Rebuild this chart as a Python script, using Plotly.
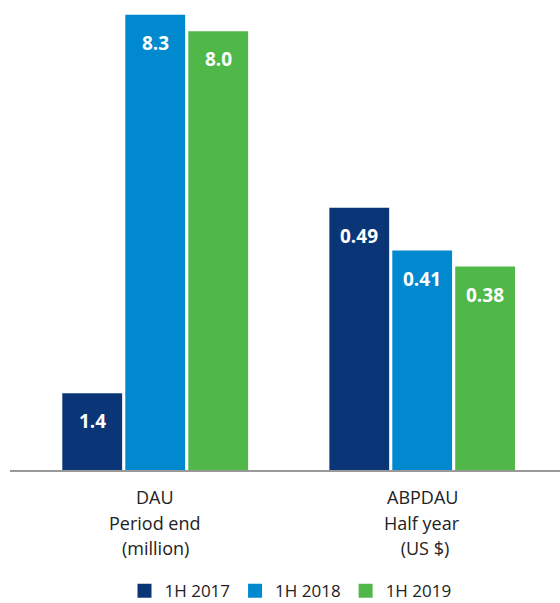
import plotly.graph_objects as go

series = ["1H 2017", "1H 2018", "1H 2019"]
colors = ["#0a3678", "#0089cf", "#50b848"]
dau_cat = ["DAU", "Period end", "(million)"]
abp_cat = ["ABPDAU", "Half year", "\u00a0(US $)"]
dau_values = [1.4, 8.3, 8.0]
abp_values = [0.49, 0.41, 0.38]
dau_labels = ["1.4", "8.3", "8.0"]
abp_labels = ["0.49", "0.41", "0.38"]

fig = go.Figure()
fig.add_trace(go.Bar(x=series, y=dau_values, marker_color=colors, marker_line_width=0,
                     xaxis="x", yaxis="y", showlegend=False, hoverinfo="y"))
fig.add_trace(go.Bar(x=series, y=abp_values, marker_color=colors, marker_line_width=0,
                     xaxis="x2", yaxis="y2", showlegend=False, hoverinfo="y"))
for i, name in enumerate(series):
    fig.add_trace(go.Scatter(x=[None], y=[None], mode="markers", name=name,
                             marker=dict(symbol="square", size=14, color=colors[i])))

anns = []
for xr, yr, vals, labs, cat in [("x", "y", dau_values, dau_labels, dau_cat),
                                 ("x2", "y2", abp_values, abp_labels, abp_cat)]:
    for s, v, l in zip(series, vals, labs):
        anns.append(dict(xref=xr, yref=yr, x=s, y=v, text="<b>" + l + "</b>", showarrow=False,
                         yshift=-28, yanchor="middle",
                         font=dict(color="white", size=19, family="Open Sans")))
    for k, line in enumerate(cat):
        anns.append(dict(xref=xr, yref="paper", x=series[1], y=0, text=line, showarrow=False,
                         yshift=-27 - 25.5 * k, yanchor="middle",
                         font=dict(size=18, color="#222222", family="Open Sans")))

fig.update_layout(
    width=560, height=603,
    margin=dict(l=10, r=0, t=0, b=133, autoexpand=False),
    plot_bgcolor="white", paper_bgcolor="white",
    bargap=0.05,
    font=dict(family="Open Sans", size=16, color="#222222"),
    annotations=anns,
    xaxis=dict(domain=[0, 0.5], range=[-1.305, 3.06], showline=True, linecolor="#999999",
               linewidth=2, ticks="", showticklabels=False, anchor="y"),
    xaxis2=dict(domain=[0.5, 1], range=[-1.18, 3.19], showline=True, linecolor="#999999",
                linewidth=2, ticks="", showticklabels=False, anchor="y2"),
    yaxis=dict(range=[0, 8.57], visible=False),
    yaxis2=dict(range=[0, 0.878], visible=False, anchor="x2"),
    legend=dict(orientation="h", x=0.51, xanchor="center", y=-0.258, yanchor="middle",
                font=dict(size=17), traceorder="normal", itemwidth=30),
)
fig.write_html("out.html", config={"displayModeBar": False},
               post_script="document.body.style.margin='0';")
